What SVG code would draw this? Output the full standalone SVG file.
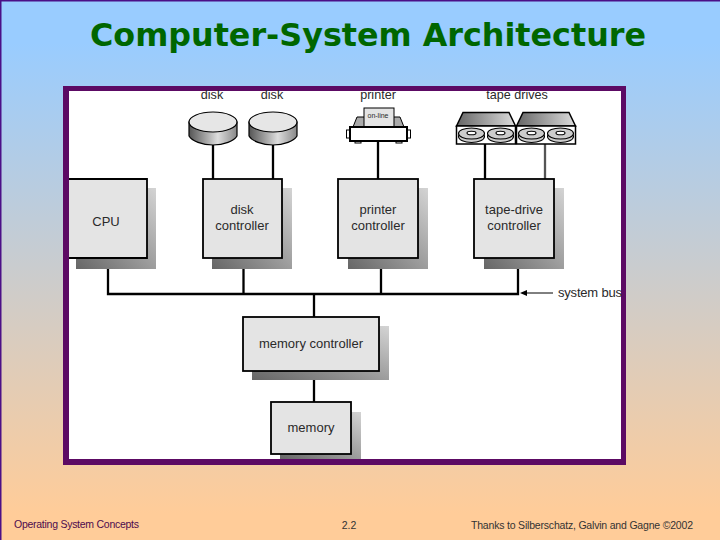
<svg xmlns="http://www.w3.org/2000/svg" width="720" height="540" viewBox="0 0 720 540">
<style>
text{font-family:"Liberation Sans",Arial,sans-serif;fill:#2a2a2a;font-size:13px;text-anchor:middle}
.box{fill:#e4e4e4;stroke:#000;stroke-width:1.800}
.line{stroke:#000;stroke-width:2.300;fill:none}
.foot{font-size:10.500px;fill:#4d0a4d}
.out{stroke:#000;stroke-width:1.500}
.cap{font-size:12.600px}
</style>
<defs>
<linearGradient id="bg" x1="0" y1="0" x2="0" y2="1"><stop offset="0.08" stop-color="#99ccff"/><stop offset="0.95" stop-color="#ffcc99"/></linearGradient>
<linearGradient id="sh" x1="0" y1="1" x2="1" y2="0"><stop offset="0" stop-color="#666"/><stop offset="1" stop-color="#d4d4d4"/></linearGradient>
<linearGradient id="cyl" x1="0" y1="0" x2="1" y2="0"><stop offset="0" stop-color="#555"/><stop offset="0.6" stop-color="#ddd"/><stop offset="1" stop-color="#888"/></linearGradient>
<linearGradient id="top" x1="0" y1="0" x2="1" y2="0"><stop offset="0" stop-color="#666"/><stop offset="1" stop-color="#ddd"/></linearGradient>
<g id="tapeunit">
<path class="out" d="M0.500 14L7 0.500H53L59.500 14Z" fill="url(#top)"/>
<rect x="0.500" y="14" width="59" height="18" fill="#fff" class="out"/>
<g fill="#ccc" stroke="#000" stroke-width="1.100"><ellipse cx="15.500" cy="24.500" rx="13" ry="6"/><ellipse cx="15.500" cy="21.500" rx="13" ry="5.500"/><ellipse cx="15.500" cy="21" rx="4.500" ry="1.800" fill="#fff"/><ellipse cx="44.500" cy="24.500" rx="13" ry="6"/><ellipse cx="44.500" cy="21.500" rx="13" ry="5.500"/><ellipse cx="44.500" cy="21" rx="4.500" ry="1.800" fill="#fff"/></g>
</g>
</defs>
<rect width="720" height="540" fill="url(#bg)"/>
<path d="M0.750 540V0.750H720" fill="none" stroke="#4b0f87" stroke-width="1.500"/>
<text x="368" y="46" style="font-family:'DejaVu Sans',Verdana,sans-serif;font-weight:700;font-size:32px;fill:#006600" textLength="556" lengthAdjust="spacingAndGlyphs">Computer-System Architecture</text>
<path id="frame" fill-rule="evenodd" fill="#5c0a64" d="M63 86H626V465H63ZM69 91V459H621V91Z"/>
<rect x="69" y="91" width="552" height="368" fill="#fff"/>
<g id="connectors">
<path class="line" d="M213 145V179M273 145V179M378 140V179M485 144V179"/>
<path d="M545 144V179" stroke="#555" stroke-width="2.300" fill="none"/>
<path class="line" d="M108 258V294M243.500 258V294M381 258V294M518 258V294M106.850 294H519.150M314 294V317M314 371V402"/>
<path d="M553 293H526" stroke="#000" stroke-width="1" fill="none"/>
<path d="M520 293L527 290V296Z" fill="#000"/>
</g>
<g id="disk1"><path d="M189 122V136C192 141 202 145 213 145S234 141 237 136V122Z" fill="url(#cyl)" stroke="#000" stroke-width="1.200"/><ellipse cx="213" cy="122" rx="24" ry="10" fill="#e6e6e6" stroke="#000" stroke-width="1.200"/><text class="cap" x="212" y="99">disk</text></g>
<g id="disk2"><path d="M249 122V136C252 141 262 145 273 145S294 141 297 136V122Z" fill="url(#cyl)" stroke="#000" stroke-width="1.200"/><ellipse cx="273" cy="122" rx="24" ry="10" fill="#e6e6e6" stroke="#000" stroke-width="1.200"/><text class="cap" x="272" y="99">disk</text></g>
<g id="printer">
<text class="cap" x="378" y="99">printer</text>
<path d="M353 127L357 117H400L404 127Z" fill="#aaa" stroke="#000"/>
<rect x="364" y="108" width="30" height="20" fill="#e4e4e4" stroke="#000"/>
<text x="378" y="118" style="font-size:7px">on-line</text>
<rect x="346.500" y="130" width="4" height="8" fill="#fff" stroke="#000"/><rect x="406.500" y="130" width="4" height="8" fill="#fff" stroke="#000"/>
<rect x="355" y="140" width="6" height="3" fill="#fff" stroke="#000"/><rect x="396" y="140" width="6" height="3" fill="#fff" stroke="#000"/>
<rect x="350" y="127" width="57" height="14" fill="#fff" stroke="#000" stroke-width="2"/>
</g>
<g id="tapes"><text class="cap" x="517" y="99">tape drives</text><use href="#tapeunit" x="456" y="112"/><use href="#tapeunit" x="516" y="112"/></g>
<g id="cpu"><rect x="76" y="188" width="80" height="81" fill="url(#sh)"/><path d="M69 179H147V258H69Z" fill="#e4e4e4"/><path d="M69 179H147V258H69" fill="none" stroke="#000" stroke-width="1.800"/><text x="106" y="226">CPU</text></g>
<g id="disk-controller"><rect x="212" y="188" width="80" height="81" fill="url(#sh)"/><rect class="box" x="203" y="179" width="79" height="79"/><text x="242" y="214">disk</text><text x="242" y="230">controller</text></g>
<g id="printer-controller"><rect x="348" y="188" width="80" height="81" fill="url(#sh)"/><rect class="box" x="338" y="179" width="80" height="79"/><text x="378" y="214">printer</text><text x="378" y="230">controller</text></g>
<g id="tape-controller"><rect x="484" y="188" width="80" height="81" fill="url(#sh)"/><rect class="box" x="474" y="179" width="80" height="79"/><text x="514" y="214">tape-drive</text><text x="514" y="230">controller</text></g>
<g id="memory-controller"><rect x="252" y="326" width="137" height="54" fill="url(#sh)"/><rect class="box" x="243" y="317" width="136" height="54"/><text x="311" y="348">memory controller</text></g>
<g id="memory"><rect x="280" y="412" width="81" height="47" fill="url(#sh)"/><rect class="box" x="271" y="402" width="80" height="52"/><text x="311" y="432">memory</text></g>
<g id="system-bus"><text x="558" y="297" style="text-anchor:start" textLength="64">system bus</text></g>
<g id="footer">
<text class="foot" x="14" y="528" style="text-anchor:start" textLength="125">Operating System Concepts</text>
<text class="foot" x="349" y="529" style="fill:#333">2.2</text>
<text class="foot" x="471" y="529" style="text-anchor:start;fill:#333" textLength="222">Thanks to  Silberschatz, Galvin and  Gagne ©2002</text>
</g>
</svg>
